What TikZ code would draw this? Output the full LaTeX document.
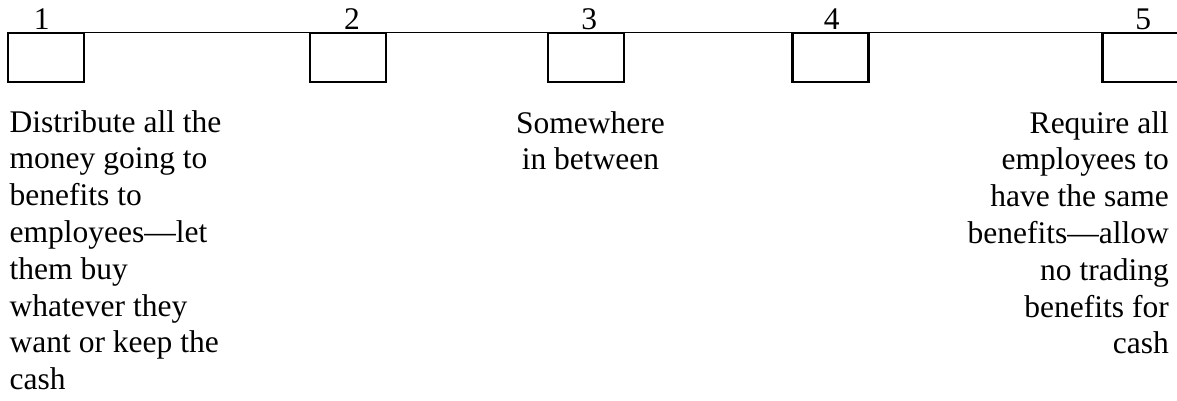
\documentclass[tikz,border=0pt]{standalone}
\usepackage{fontspec}
\setmainfont{Liberation Serif}
\begin{document}
\begin{tikzpicture}[x=1pt,y=-1pt,
  scalebox/.style={draw=black, line width=2.2pt, minimum width=76pt, minimum height=49pt, inner sep=0pt, outer sep=0pt},
  connector/.style={draw=black, line width=1.4pt},
  numlabel/.style={font=\fontsize{31.5}{36.8}\selectfont, inner sep=0pt, anchor=base},
  caption/.style={font=\fontsize{31.5}{36.8}\selectfont, inner sep=0pt}
]
\clip (0,0) rectangle (1177,401);
\fill[white] (0,0) rectangle (1177,401);

% the five points of the scale
\node[scalebox] (b1) at (46,57.8) {};
\node[scalebox] (b2) at (348,57.8) {};
\node[scalebox] (b3) at (586,57.8) {};
\node[scalebox] (b4) at (830.5,57.8) {};
\node[scalebox] (b5) at (1140.5,57.8) {};

% line joining them
\draw[connector] ([yshift=0.6pt]b1.north east) -- ([yshift=0.6pt]b2.north west);
\draw[connector] ([yshift=0.6pt]b2.north east) -- ([yshift=0.6pt]b3.north west);
\draw[connector] ([yshift=0.6pt]b3.north east) -- ([yshift=0.6pt]b4.north west);
\draw[connector] ([yshift=0.6pt]b4.north east) -- ([yshift=0.6pt]b5.north west);

% numbers
\node[numlabel] (n1) at (41.7,29.3) {1};
\node[numlabel] (n2) at (352,29.3) {2};
\node[numlabel] (n3) at (589.3,29.3) {3};
\node[numlabel] (n4) at (831.7,29.3) {4};
\node[numlabel] (n5) at (1143.3,29.3) {5};

% descriptions under the ends and the middle (placed by the baseline of their last line)
\node[caption, anchor=base west, align=left] (t1) at (9.5,389.6)
  {Distribute all the\\money going to\\benefits to\\employees---let\\them buy\\whatever they\\want or keep the\\cash};
\node[caption, anchor=base, align=center] (t3) at (590.5,169.8)
  {Somewhere\\in between};
\node[caption, anchor=base east, align=right] (t5) at (1169,353.8)
  {Require all\\employees to\\have the same\\benefits---allow\\no trading\\benefits for\\cash};
\end{tikzpicture}
\end{document}
